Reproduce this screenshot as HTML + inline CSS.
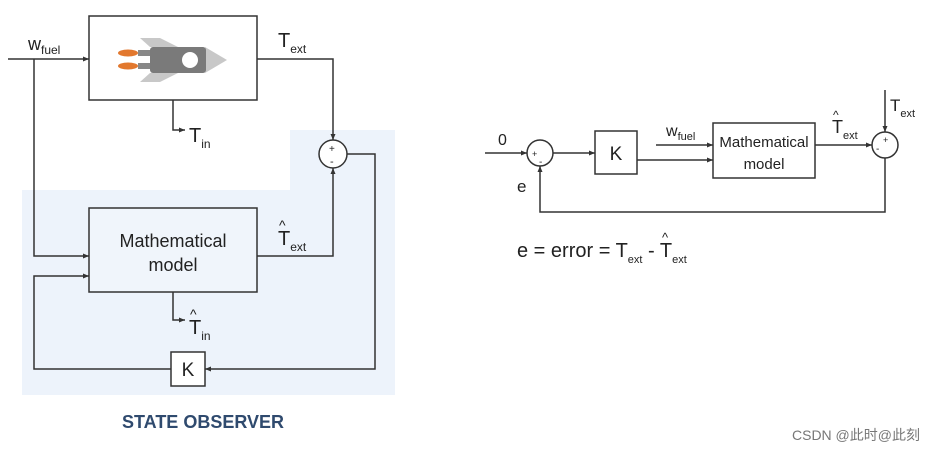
<!DOCTYPE html>
<html><head><meta charset="utf-8"><style>
body{margin:0;background:#fff;}
svg text{font-family:"Liberation Sans","DejaVu Sans",sans-serif;fill:#222;}
</style></head><body>
<svg width="930" height="450" viewBox="0 0 930 450" xmlns="http://www.w3.org/2000/svg">
<defs>
<marker id="a" markerWidth="6" markerHeight="6" refX="6" refY="3" orient="auto" markerUnits="userSpaceOnUse"><path d="M0,0.5 L6,3 L0,5.5z" fill="#333"/></marker>
</defs>
<path d="M22,190 H290 V130 H395 V395 H22 Z" fill="#edf3fb"/>
<g stroke="#333" stroke-width="1.5" fill="none">
<rect x="89" y="16" width="168" height="84" fill="#fff"/>
<rect x="89" y="208" width="168" height="84" fill="#f0f5fb"/>
<rect x="171" y="352" width="34" height="34" fill="#fff"/>
<circle cx="333" cy="154" r="14" fill="#fff"/>
<path d="M8,59 H89" marker-end="url(#a)"/>
<path d="M34,59 V256 H89" marker-end="url(#a)"/>
<path d="M257,59 H333 V140" marker-end="url(#a)"/>
<path d="M173,100 V130 H185" marker-end="url(#a)"/>
<path d="M173,292 V320 H185" marker-end="url(#a)"/>
<path d="M257,256 H333 V168" marker-end="url(#a)"/>
<path d="M347,154 H375 V369 H205" marker-end="url(#a)"/>
<path d="M171,369 H34 V276 H89" marker-end="url(#a)"/>
</g>
<path d="M150,47 L140,38 L160,38 L178,47Z M150,73 L140,82 L160,82 L178,73Z" fill="#c8c8c8"/>
<path d="M205,47 L227,60 L205,73Z" fill="#c8c8c8"/>
<rect x="150" y="47" width="56" height="26" rx="3" fill="#7a7a7a"/>
<rect x="138" y="50" width="12" height="6" fill="#888"/><rect x="138" y="63" width="12" height="6" fill="#888"/>
<circle cx="190" cy="60" r="8" fill="#fff"/>
<ellipse cx="128" cy="53" rx="10" ry="3.5" fill="#e2782e"/>
<ellipse cx="128" cy="66" rx="10" ry="3.5" fill="#e2782e"/>
<text x="329" y="152" font-size="10">+</text>
<text x="330" y="165" font-size="11">-</text>
<text x="28" y="50" font-size="18">w<tspan font-size="12" dy="4">fuel</tspan></text>
<text x="278" y="47" font-size="20">T<tspan font-size="12" dy="6">ext</tspan></text>
<text x="189" y="142" font-size="20">T<tspan font-size="12" dy="6">in</tspan></text>
<text x="278" y="245" font-size="20">T<tspan font-size="12" dy="6">ext</tspan></text>
<text x="279" y="230" font-size="14">^</text>
<text x="189" y="334" font-size="20">T<tspan font-size="12" dy="6">in</tspan></text>
<text x="190" y="319" font-size="14">^</text>
<text x="173" y="247" font-size="18" text-anchor="middle">Mathematical</text>
<text x="173" y="271" font-size="18" text-anchor="middle">model</text>
<text x="188" y="376" font-size="19" text-anchor="middle">K</text>
<text x="203" y="428" font-size="18" font-weight="bold" text-anchor="middle" style="fill:#2f4a6e">STATE OBSERVER</text>
<g stroke="#333" stroke-width="1.5" fill="none">
<circle cx="540" cy="153" r="13"/>
<circle cx="885" cy="145" r="13"/>
<rect x="595" y="131" width="42" height="43"/>
<rect x="713" y="123" width="102" height="55"/>
<path d="M485,153 H527" marker-end="url(#a)"/>
<path d="M553,153 H595" marker-end="url(#a)"/>
<path d="M656,145 H713" marker-end="url(#a)"/>
<path d="M637,160 H713" marker-end="url(#a)"/>
<path d="M815,145 H872" marker-end="url(#a)"/>
<path d="M885,90 V132" marker-end="url(#a)"/>
<path d="M885,158 V212 H540 V166" marker-end="url(#a)"/>
</g>
<text x="532" y="157" font-size="9">+</text>
<text x="539" y="165" font-size="10">-</text>
<text x="883" y="143" font-size="9">+</text>
<text x="876" y="152" font-size="10">-</text>
<text x="498" y="145" font-size="16">0</text>
<text x="517" y="192" font-size="17">e</text>
<text x="616" y="160" font-size="19" text-anchor="middle">K</text>
<text x="666" y="136" font-size="16">w<tspan font-size="11" dy="4">fuel</tspan></text>
<text x="764" y="147" font-size="15" text-anchor="middle">Mathematical</text>
<text x="764" y="169" font-size="15" text-anchor="middle">model</text>
<text x="832" y="133" font-size="18">T<tspan font-size="11" dy="6">ext</tspan></text>
<text x="833" y="119" font-size="12">^</text>
<text x="890" y="111" font-size="17">T<tspan font-size="11" dy="6">ext</tspan></text>
<text x="517" y="257" font-size="20">e = error = T<tspan font-size="11" dy="6">ext</tspan><tspan dy="-6"> - </tspan><tspan id="t2">T</tspan><tspan font-size="11" dy="6">ext</tspan></text>
<text x="662" y="242" font-size="13">^</text>
<text x="920" y="440" font-size="14" text-anchor="end" style="fill:#777">CSDN @<tspan style='font-family:"Noto Sans CJK SC",sans-serif'>此时</tspan>@<tspan style='font-family:"Noto Sans CJK SC",sans-serif'>此刻</tspan></text>
</svg>
</body></html>
